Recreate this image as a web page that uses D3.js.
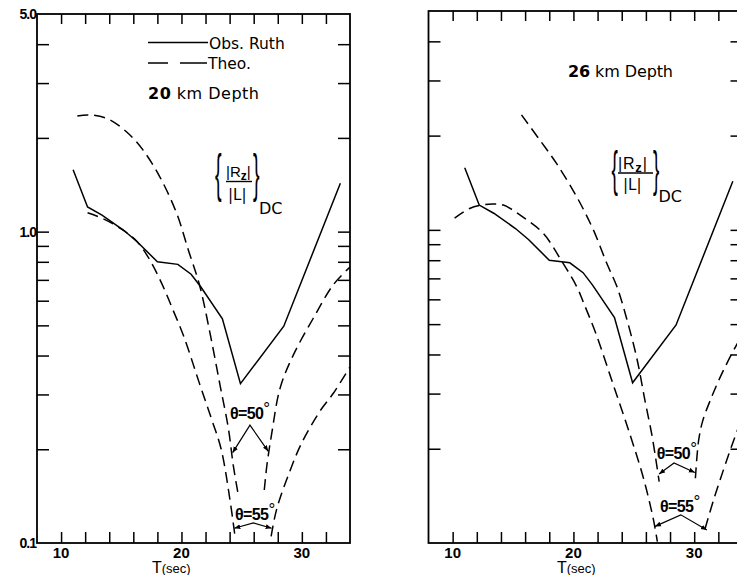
<!DOCTYPE html>
<html><head><meta charset="utf-8">
<script src="https://cdn.jsdelivr.net/npm/d3@7"></script>
<style>
body{margin:0;background:#fff;}
svg{display:block;font-family:"Liberation Sans",Arial,sans-serif;}
.w{font-family:"DejaVu Sans","Liberation Sans",sans-serif;}
</style>
</head><body>
<svg id="c" width="737" height="575"></svg>
<script>
// ---------- data ----------
const xTicks = [10,12,14,16,18,20,22,24,26,28,30,32];
const xLabels = [10,20,30];
const yTicks = [0.2,0.3,0.4,0.5,0.6,0.7,0.8,0.9,1,2,3,4];
const yLabelVals = [5,1,0.1];
const yLabelText = ["5.0","1.0","0.1"];

// observed (Ruth) – same in both panels
const obsT = [11, 12.2, 13.4, 15.2, 16.3, 18.0, 19.7, 20.8, 21.6, 23.4, 24.9, 28.5, 33.2];
const obsV = [1.58, 1.20, 1.13, 1.01, 0.93, 0.80, 0.785, 0.73, 0.665, 0.525, 0.325, 0.497, 1.43];

// 20 km depth, theoretical
const d20_50aT = [11.35, 12.3, 13.8, 15.45, 16.8, 18.2, 19.6, 20.57, 21.5, 22.4, 23.2, 23.9, 24.3, 24.7];
const d20_50aV = [2.35, 2.37, 2.31, 2.09, 1.83, 1.50, 1.145, 0.873, 0.674, 0.466, 0.322, 0.233, 0.178, 0.144];
const d20_50bT = [26.88, 27.1, 27.5, 28.2, 29.3, 30.95, 32.6, 34];
const d20_50bV = [0.148, 0.178, 0.225, 0.315, 0.402, 0.527, 0.674, 0.77];
const d20_55aT = [12.2, 13.5, 15.0, 16.3, 17.3, 18.3, 19.3, 20.2, 21.5, 22.5, 23.3, 24.0, 24.45];
const d20_55aV = [1.15, 1.10, 1.02, 0.93, 0.82, 0.69, 0.56, 0.46, 0.325, 0.25, 0.20, 0.14, 0.105];
const d20_55bT = [27.45, 27.9, 29.0, 30.0, 31.5, 32.6, 34];
const d20_55bV = [0.105, 0.128, 0.17, 0.21, 0.265, 0.302, 0.368];

// 26 km depth, theoretical
const d26_50aT = [15.7, 17.2, 18.6, 20.27, 21.65, 22.76, 23.6, 24.4, 25.25, 25.94, 26.5, 26.9, 27.1];
const d26_50aV = [2.33, 1.94, 1.63, 1.276, 1.0, 0.782, 0.659, 0.522, 0.389, 0.283, 0.221, 0.177, 0.157];
const d26_50bT = [30.1, 30.37, 30.7, 31.34, 32.3, 33.58, 34];
const d26_50bV = [0.161, 0.213, 0.245, 0.286, 0.348, 0.434, 0.46];
const d26_55aT = [10.16, 11.4, 12.4, 13.3, 14.2, 15.8, 17.5, 18.9, 20.27, 20.8, 21.9, 23.3, 24.7, 25.8, 26.6, 26.95];
const d26_55aV = [1.09, 1.17, 1.20, 1.21, 1.20, 1.10, 0.975, 0.81, 0.659, 0.59, 0.462, 0.32, 0.221, 0.161, 0.12, 0.101];
const d26_55bT = [30.9, 31.6, 32.7, 33.58, 34];
const d26_55bV = [0.111, 0.137, 0.184, 0.229, 0.25];

// annotation anchors (data units)
const ann20 = {
  l50: [24.03, 0.25], b50: [[24.25,0.195],[25.69,0.239],[27.21,0.197]],
  l55: [24.45, 0.1186], b55: [[24.39,0.1115],[25.97,0.116],[27.49,0.1115]]
};
const ann26 = {
  l50: [26.9, 0.186], b50: [[27.09,0.166],[28.33,0.180],[30.05,0.168]],
  l55: [27.17, 0.126], b55: [[26.75,0.113],[28.89,0.123],[31.05,0.110]]
};

// ---------- drawing ----------
const svg = d3.select("#c");
const defs = svg.append("defs");
defs.append("marker").attr("id","arr").attr("viewBox","0 0 10 10")
  .attr("refX",10).attr("refY",5).attr("markerWidth",6).attr("markerHeight",6)
  .attr("markerUnits","userSpaceOnUse").attr("orient","auto-start-reverse")
  .append("path").attr("d","M0,1 L10,5 L0,9 Z").attr("fill","#000");

const zip = (a,b) => a.map((t,i)=>[t,b[i]]);

function panel(cfg){
  const x = d3.scaleLinear().domain([8,34]).range([cfg.x0, cfg.x1]);
  const y = d3.scaleLog().domain([0.1,5]).range([cfg.yB, cfg.yT]);
  const g = svg.append("g");
  const strip = sel => sel.call(s=>s.select(".domain").remove())
      .selectAll("line").attr("stroke","#000").attr("stroke-width",1.5);

  g.append("g").attr("transform",`translate(0,${cfg.yB})`)
    .call(d3.axisBottom(x).tickValues(xTicks).tickSizeInner(-11).tickSizeOuter(0).tickFormat(""))
    .call(strip);
  g.append("g").attr("transform",`translate(0,${cfg.yT})`)
    .call(d3.axisTop(x).tickValues(xTicks).tickSizeInner(-10).tickSizeOuter(0).tickFormat(""))
    .call(strip);
  g.append("g").attr("transform",`translate(${cfg.x0},0)`)
    .call(d3.axisLeft(y).tickValues(yTicks).tickSizeInner(-12).tickSizeOuter(0).tickFormat(""))
    .call(strip);
  g.append("g").attr("transform",`translate(${cfg.x1},0)`)
    .call(d3.axisRight(y).tickValues(yTicks).tickSizeInner(-12).tickSizeOuter(0).tickFormat(""))
    .call(strip);

  g.append("rect").attr("x",cfg.x0).attr("y",cfg.yT)
    .attr("width",cfg.x1-cfg.x0).attr("height",cfg.yB-cfg.yT)
    .attr("fill","none").attr("stroke","#000").attr("stroke-width",1.8);

  // x labels
  g.selectAll("text.xl").data(xLabels).join("text").attr("class","xl")
    .attr("x",d=>x(d)).attr("y",cfg.yB+15).attr("text-anchor","middle")
    .attr("font-size",15).attr("font-weight","bold").text(d=>d);
  const tt = g.append("text").attr("x",cfg.titleX).attr("y",cfg.yB+30);
  tt.append("tspan").attr("font-size",16).text("T");
  tt.append("tspan").attr("font-size",13).text("(sec)");

  if(cfg.yLabels){
    g.selectAll("text.yl").data(yLabelVals).join("text").attr("class","yl")
      .attr("x",cfg.x0-1).attr("y",d=>y(d)+5).attr("text-anchor","end")
      .attr("font-size",14).attr("font-weight","bold").attr("letter-spacing",-1)
      .text((d,i)=>yLabelText[i]);
  }

  const line = d3.line().x(d=>x(d[0])).y(d=>y(d[1]));
  const smooth = d3.line().x(d=>x(d[0])).y(d=>y(d[1])).curve(d3.curveCatmullRom.alpha(0.5));
  const clipId = "clip"+cfg.id;
  defs.append("clipPath").attr("id",clipId).append("rect")
    .attr("x",cfg.x0).attr("y",cfg.yT).attr("width",cfg.x1-cfg.x0).attr("height",cfg.yB-cfg.yT);
  const pl = g.append("g").attr("clip-path",`url(#${clipId})`);
  cfg.theo.forEach(c=>{
    pl.append("path").attr("d",smooth(c)).attr("fill","none").attr("stroke","#000")
      .attr("stroke-width",1.5).attr("stroke-dasharray","11,6");
  });
  pl.append("path").attr("d",line(zip(obsT,obsV))).attr("fill","none")
    .attr("stroke","#000").attr("stroke-width",1.5);

  // theta annotations
  const a = cfg.ann;
  [["θ=50",a.l50,a.b50],["θ=55",a.l55,a.b55]].forEach(([lab,p,b])=>{
    const t = g.append("text").attr("x",x(p[0])).attr("y",y(p[1]))
      .attr("font-size",16).attr("font-weight","bold").attr("letter-spacing",-0.6);
    t.append("tspan").text(lab);
    t.append("tspan").attr("dy",-5).attr("font-size",17).attr("font-weight","normal").text("°");
    g.append("path").attr("d",d3.line().x(d=>x(d[0])).y(d=>y(d[1]))(b))
      .attr("fill","none").attr("stroke","#000").attr("stroke-width",1.2)
      .attr("marker-start","url(#arr)").attr("marker-end","url(#arr)");
  });

  // depth label
  const dt = g.append("text").attr("class","w").attr("x",cfg.depth[0]).attr("y",cfg.depth[1])
    .attr("font-size",16).attr("textLength",cfg.depth[3]).attr("lengthAdjust","spacing");
  dt.append("tspan").attr("font-weight","bold").text(cfg.depth[2]);
  dt.append("tspan").text(" km Depth");

  // ratio formula
  const f = cfg.formula;
  const br = (bx, ch) => g.append("text").attr("transform",`translate(${bx},${f.bb}) scale(0.38,1)`)
      .attr("font-size",f.bs).attr("font-weight","normal").text(ch);
  br(f.lb,"{"); br(f.rb,"}");
  const num = g.append("text").attr("x",f.nx).attr("y",f.ny).attr("font-size",f.nf)
    .attr("letter-spacing",f.ls);
  num.append("tspan").text("|R");
  num.append("tspan").attr("font-size",f.nf-3).attr("font-weight","bold").attr("dy",3).text("z");
  num.append("tspan").attr("dy",-3).text("|");
  g.append("line").attr("x1",f.nx).attr("x2",f.nx+f.bw).attr("y1",f.by).attr("y2",f.by)
    .attr("stroke","#000").attr("stroke-width",1.4);
  g.append("text").attr("class","w").attr("x",f.dx).attr("y",f.dy).attr("font-size",15).text("|L|");
  g.append("text").attr("class","w").attr("x",f.cx).attr("y",f.cy).attr("font-size",16).text("DC");
}

panel({id:"a", x0:37, x1:350, yT:14, yB:543, titleX:152, yLabels:true,
  theo:[zip(d20_50aT,d20_50aV),zip(d20_50bT,d20_50bV),zip(d20_55aT,d20_55aV),zip(d20_55bT,d20_55bV)],
  ann:ann20, depth:[148,99,"20",111],
  formula:{lb:215,rb:253,bb:191,bs:52,nx:226,ny:177,nf:15,ls:0,bw:26,by:181.5,dx:228,dy:199.5,cx:259,cy:214}});

panel({id:"b", x0:428.5, x1:742.5, yT:11, yB:543, titleX:557, yLabels:false,
  theo:[zip(d26_50aT,d26_50aV),zip(d26_50bT,d26_50bV),zip(d26_55aT,d26_55aV),zip(d26_55bT,d26_55bV)],
  ann:ann26, depth:[568,77,"26",105],
  formula:{lb:611.5,rb:653,bb:186,bs:50,nx:618,ny:169,nf:16,ls:0.8,bw:35,by:173,dx:623,dy:189.5,cx:658.5,cy:202}});

// legend (left panel)
const lg = svg.append("g");
lg.append("line").attr("x1",148).attr("x2",208).attr("y1",42.5).attr("y2",42.5)
  .attr("stroke","#000").attr("stroke-width",1.5);
lg.append("text").attr("class","w").attr("x",209).attr("y",48.5).attr("font-size",15.5).text("Obs. Ruth");
lg.append("line").attr("x1",148).attr("x2",207).attr("y1",63).attr("y2",63)
  .attr("stroke","#000").attr("stroke-width",1.5).attr("stroke-dasharray","20,12,27");
lg.append("text").attr("class","w").attr("x",208).attr("y",68.5).attr("font-size",15.5).text("Theo.");
</script>
</body></html>
